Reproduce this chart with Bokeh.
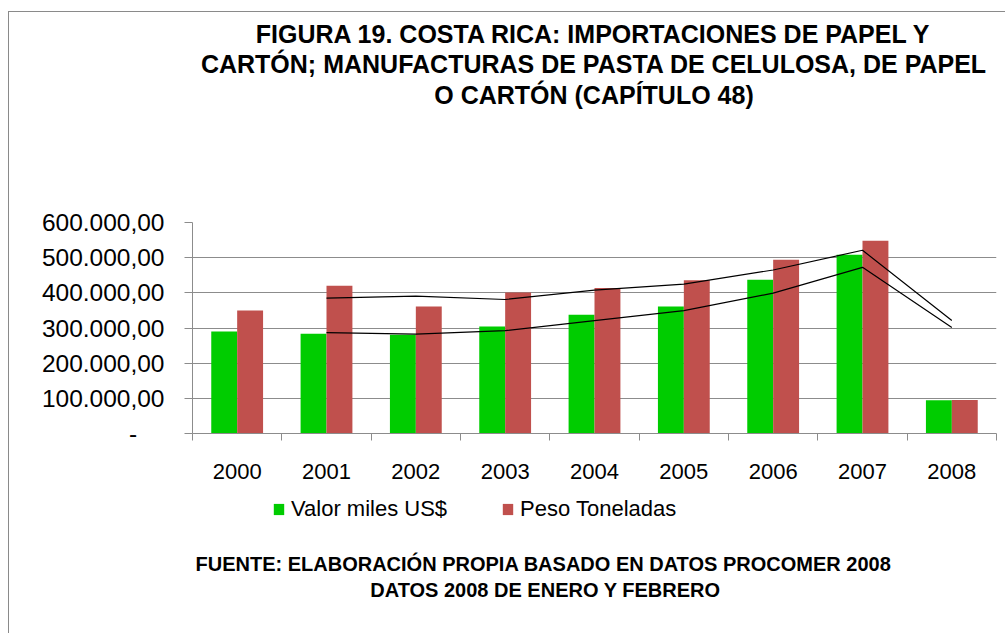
from bokeh.plotting import figure
from bokeh.layouts import column
from bokeh.models import Range1d, FixedTicker, Legend, LegendItem, ColumnDataSource
from bokeh.core.properties import value
from bokeh.embed import file_html
from bokeh.resources import INLINE

# ---------------- data ----------------
years = ["2000", "2001", "2002", "2003", "2004", "2005", "2006", "2007", "2008"]
valor_miles_usd = [290000, 284000, 281000, 304000, 338000, 361000, 437000, 508000, 94500]
peso_toneladas = [349500, 420000, 361000, 401000, 414000, 436000, 494000, 548000, 95000]
y_ticks = [0, 100000, 200000, 300000, 400000, 500000, 600000]
y_tick_labels = ["-\u00a0\u00a0\u00a0\u00a0", "100.000,00", "200.000,00", "300.000,00",
                 "400.000,00", "500.000,00", "600.000,00"]
title_lines = ["FIGURA 19. COSTA RICA: IMPORTACIONES DE PAPEL Y",
               "CARTÓN; MANUFACTURAS DE PASTA DE CELULOSA, DE PAPEL",
               "O CARTÓN (CAPÍTULO 48)"]
footer_lines = ["FUENTE: ELABORACIÓN PROPIA BASADO EN DATOS PROCOMER 2008",
                "DATOS 2008 DE ENERO Y FEBRERO"]
series_names = ["Valor miles US$", "Peso Toneladas"]

GREEN = "#00CC00"
RED = "#C0504D"
GRAY = "#8C8C8C"
FONT = "Liberation Sans"
FRAME_W = 804
LEFT = 183
RIGHT = 9

n = len(years)
centers = [i + 0.5 for i in range(n)]
bar_w = 0.29
off = 0.145

# 2-period moving averages (Excel trendlines)
ma_x = centers[1:]
ma_valor = [(valor_miles_usd[i - 1] + valor_miles_usd[i]) / 2 for i in range(1, n)]
ma_peso = [(peso_toneladas[i - 1] + peso_toneladas[i]) / 2 for i in range(1, n)]


def blank_fig(h):
    # frame aligned with the chart frame; ranges are in pixels of that frame
    f = figure(frame_width=FRAME_W, frame_height=h,
               min_border_left=LEFT, min_border_right=RIGHT,
               min_border_top=0, min_border_bottom=0,
               x_range=Range1d(0, FRAME_W), y_range=Range1d(h, 0),
               x_axis_type=None, y_axis_type=None, output_backend="svg",
               toolbar_location=None)
    f.xgrid.visible = False
    f.ygrid.visible = False
    f.outline_line_color = None
    f.background_fill_color = "white"
    f.border_fill_color = "white"
    return f


# ---------------- title ----------------
top = blank_fig(190)
top.text(x=[401.5, 401.5, 401.5], y=[21, 51.5, 82], text=title_lines,
         text_align="center", text_baseline="middle",
         text_font=value(FONT), text_font_style="bold", text_font_size=value("25px"),
         text_color="black")

# ---------------- chart ----------------
src = ColumnDataSource(dict(
    xg=[c - off for c in centers],
    xr=[c + off for c in centers],
    valor=valor_miles_usd,
    peso=peso_toneladas,
))

p = figure(frame_width=FRAME_W, frame_height=211,
           min_border_left=LEFT, min_border_right=RIGHT,
           min_border_top=20, min_border_bottom=57,
           x_range=Range1d(0, n), y_range=Range1d(0, 600000),
           output_backend="svg", toolbar_location=None)
p.outline_line_color = None
p.background_fill_color = "white"
p.border_fill_color = "white"

p.vbar(x="xg", top="valor", width=bar_w, source=src, fill_color=GREEN, line_color=None)
p.vbar(x="xr", top="peso", width=bar_w, source=src, fill_color=RED, line_color=None)

p.line(ma_x, ma_peso, line_color="black", line_width=1.2)
p.line(ma_x, ma_valor, line_color="black", line_width=1.2)

p.xgrid.visible = False
p.ygrid.grid_line_color = GRAY
p.ygrid.grid_line_width = 1.2

ya = p.yaxis[0]
ya.ticker = FixedTicker(ticks=y_ticks)
ya.major_label_overrides = {t: s for t, s in zip(y_ticks, y_tick_labels)}
ya.axis_line_color = GRAY
ya.major_tick_line_color = GRAY
ya.major_tick_out = 8
ya.major_tick_in = 0
ya.minor_tick_line_color = None
ya.major_label_text_font = FONT
ya.major_label_text_font_size = "24.5px"
ya.major_label_text_color = "black"
ya.major_label_standoff = 20

xa = p.xaxis[0]
xa.ticker = FixedTicker(ticks=centers, minor_ticks=list(range(n + 1)))
xa.major_label_overrides = {c: y for c, y in zip(centers, years)}
xa.axis_line_color = GRAY
xa.major_tick_line_color = None
xa.major_tick_out = 0
xa.major_tick_in = 0
xa.minor_tick_line_color = GRAY
xa.minor_tick_out = 7
xa.minor_tick_in = 0
xa.major_label_text_font = FONT
xa.major_label_text_font_size = "22px"
xa.major_label_text_color = "black"
xa.major_label_standoff = 23

# ---------------- legend + footer ----------------
bot = blank_fig(143)
# zero-area swatches that only carry the series colours for the legend
lg_g = bot.vbar(x=[0], top=[0], bottom=[0], width=0, fill_color=GREEN, line_color=None)
lg_r = bot.vbar(x=[0], top=[0], bottom=[0], width=0, fill_color=RED, line_color=None)
legend = Legend(items=[LegendItem(label=series_names[0], renderers=[lg_g]),
                       LegendItem(label=series_names[1], renderers=[lg_r])],
                location=(80, 111), orientation="horizontal",
                glyph_width=13, glyph_height=14, label_height=14,
                label_standoff=6, spacing=54, padding=0, margin=0,
                border_line_color=None, background_fill_alpha=0,
                label_text_font=FONT, label_text_font_size="22px",
                label_text_color="black")
bot.add_layout(legend)

bot.text(x=[351, 353], y=[73, 99.5], text=footer_lines,
         text_align="center", text_baseline="middle",
         text_font=value(FONT), text_font_style="bold", text_font_size=value("20px"),
         text_color="black")

layout = column(top, p, bot, spacing=0)
layout.styles = {"margin-left": "8px", "margin-top": "11px",
                 "border-left": "1px solid #8A8A8A", "border-top": "1px solid #8A8A8A"}

open("out.html", "w").write(file_html(layout, INLINE))
